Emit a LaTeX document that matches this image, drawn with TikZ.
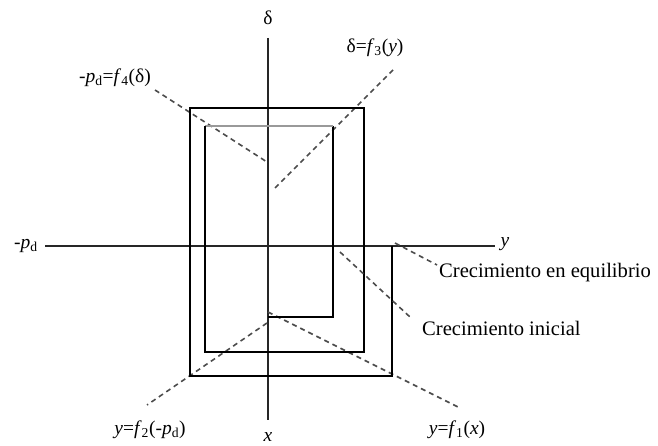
\documentclass[tikz,border=0pt]{standalone}
\usepackage{fontspec}
\setmainfont{Liberation Serif}
\usepackage{tikz}
\usetikzlibrary{calc}
\newcommand{\vi}[1]{\textit{#1}}
\tikzset{
  axisln/.style  ={line width=1.7pt, black!85},
  web/.style     ={line width=1.6pt, black},
  webpale/.style ={line width=1.4pt, black!40},
  curve/.style   ={line width=1.6pt, black!70, dash pattern=on 5pt off 4pt},
  lbl/.style     ={font=\fontsize{19.5}{22}\selectfont, inner sep=1pt},
  txt/.style     ={font=\fontsize{20.6}{23}\selectfont, inner sep=1pt, anchor=west},
}

\begin{document}
\begin{tikzpicture}[x=1pt, y=-1pt]
  \useasboundingbox (0,0) rectangle (658,446);

  % axes
  \node[lbl] (delta) at (268,18)  {δ};
  \node[lbl] (xlab)  at (268,437) {\vi{x}};
  \node[lbl] (pdlab) at (26,246)  {-\vi{p}\textsubscript{d}};
  \node[lbl] (ylab)  at (505,244) {\vi{y}};
  \coordinate (vtop) at (268,38);
  \coordinate (vbot) at (268,420);
  \coordinate (hl)   at (45,246);
  \coordinate (hr)   at (495,246);
  \draw[axisln] (vtop) -- (vbot);
  \draw[axisln] (hl) -- (hr);

  % quadrant curves
  \node[lbl] (f4) at (115,78)  {-\vi{p}\textsubscript{d}=\vi{f}\textsubscript{4}(δ)};
  \node[lbl] (f3) at (375,48)  {δ=\vi{f}\textsubscript{3}(\vi{y})};
  \node[lbl] (f2) at (150,430) {\vi{y}=\vi{f}\textsubscript{2}(-\vi{p}\textsubscript{d})};
  \node[lbl] (f1) at (457,430) {\vi{y}=\vi{f}\textsubscript{1}(\vi{x})};
  \draw[curve] (155,90)  -- (267,162);
  \draw[curve] (275,188) -- (395,68);
  \draw[curve] (267,323) -- (147,405);
  \draw[curve] (268,312) -- (458,407);

  % cobweb: from initial growth out to equilibrium
  \draw[web] (268,317) -- (333,317) -- (333,126);
  \draw[webpale] (333,126) -- (205,126);
  \draw[web] (205,126) -- (205,352) -- (364,352) -- (364,108)
    -- (190,108) -- (190,376) -- (392,376) -- (392,246);

  % pointers
  \node[txt] (inic) at (421,328) {Crecimiento inicial};
  \node[txt] (equi) at (438,273) {Crecimiento en equilibrio};
  \draw[curve] (340,252) -- (410,317);
  \draw[curve] (395,243) -- (437,265);
\end{tikzpicture}
\end{document}
